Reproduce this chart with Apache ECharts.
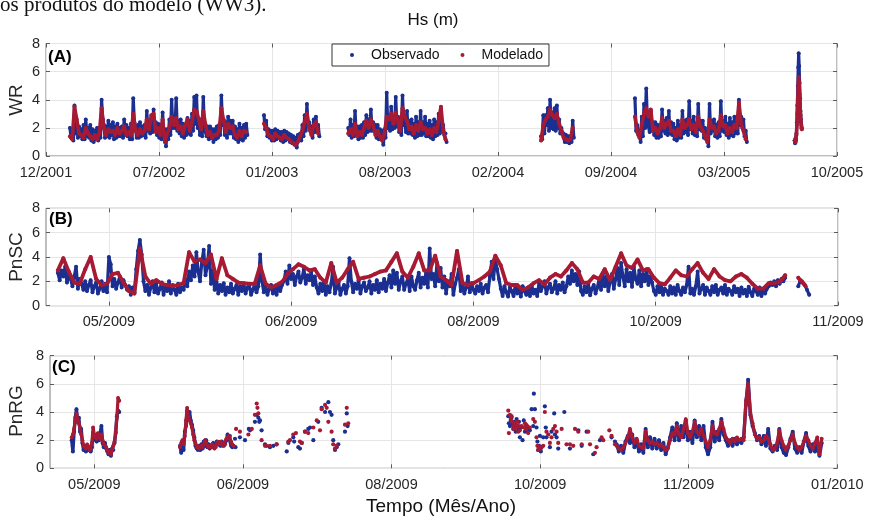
<!DOCTYPE html>
<html><head><meta charset="utf-8">
<script src="https://cdn.jsdelivr.net/npm/echarts@6/dist/echarts.min.js"></script>
<style>html,body{margin:0;padding:0;background:#fff}#c{width:869px;height:518px}</style>
</head><body><div id="c"></div>
<script>
// ---------- tick labels ----------
const A_ticks = ['12/2001','07/2002','01/2003','08/2003','02/2004','09/2004','03/2005','10/2005'];
const B_tickValues = [0,1,2,3,4];
const B_ticks = ['05/2009','06/2009','08/2009','10/2009','11/2009'];
const C_tickValues = [0,1,2,3,4,5];
const C_ticks = ['05/2009','06/2009','08/2009','10/2009','11/2009','01/2010'];

// ---------- Panel A (WR): segment start (time, in tick units) and sampling steps ----------
const A_segStart = [0.212, 1.929, 2.675, 4.381, 5.212, 6.625];
const A_obsStep  = [0.01, 0.01, 0.01, 0.01, 0.01, 0.004];
const A_modStep  = [0.02, 0.02, 0.02, 0.02, 0.02, 0.004];
const A_obs1 = [2.0,1.3,1.8,1.1,3.6,1.6,2.4,1.3,2.1,1.4,1.9,1.2,2.2,1.2,2.6,1.4,2.0,1.3,2.2,1.1,1.9,1.0,1.8,1.2,2.0,1.1,2.0,1.3,4.0,2.6,2.2,1.3,2.1,1.4,2.5,1.3,2.2,1.5,2.4,1.2,2.1,1.3,2.3,1.4,2.0,1.4,2.1,1.3,2.6,1.5,2.2,1.4,2.0,1.2,2.3,1.2,4.1,2.4,2.0,1.3,2.2,1.3,2.4,1.4,2.1,1.5,2.2,1.3,3.2,1.8,2.4,1.6,2.6,1.7,3.3,1.9,2.4,1.5,2.3,1.3,2.2,1.2,3.1,1.4,1.9,0.7,1.9,1.2,2.6,1.5,4.0,2.0,2.8,2.0,4.1,1.8,2.5,1.6,2.6,1.4,2.3,1.3,2.2,1.5,2.7,1.6,2.5,1.5,3.0,1.8,4.2,2.3,4.3,2.0,2.4,1.5,2.6,1.4,4.2,1.9,2.0,1.4,2.1,1.2,2.1,1.3,1.9,1.0,1.9,1.2,2.1,1.3,2.2,1.5,4.3,2.2,2.6,1.5,2.4,1.3,2.8,1.6,2.5,1.6,2.5,1.3,2.1,1.2,1.9,1.0,2.3,1.2,2.0,1.1,2.2,1.3,2.3,1.5];
const A_mod1 = [1.4,1.2,3.5,2.6,1.6,1.5,1.3,2.0,1.6,1.4,1.2,1.5,1.2,1.6,3.4,2.0,1.5,1.9,1.7,1.8,1.5,2.0,1.6,1.8,2.1,1.5,1.7,1.5,3.0,1.8,1.5,1.9,1.6,1.8,2.6,1.9,2.9,3.0,1.7,2.0,1.5,2.6,1.0,1.6,2.0,2.8,2.2,2.7,1.9,2.1,1.6,2.2,2.6,1.8,2.4,3.3,3.2,2.6,1.9,3.2,2.2,1.5,1.7,1.3,1.5,1.5,1.8,3.4,2.5,1.7,2.3,2.0,2.1,1.5,1.3,1.8,1.4,1.8,1.7];
const A_obs2 = [2.9,1.9,2.5,1.4,1.9,1.3,1.8,1.1,1.8,1.1,1.9,1.2,1.8,1.3,1.7,1.1,1.7,1.0,1.8,1.1,1.7,1.2,1.6,1.0,1.5,0.9,1.4,0.8,1.3,0.6,1.5,1.2,1.6,1.1,2.2,1.4,2.9,1.8,3.7,2.2,2.4,1.8,2.1,1.3,2.6,1.7,2.8,1.8,2.2,1.4];
const A_mod2 = [2.3,2.0,1.5,1.4,1.2,1.6,1.4,1.3,1.2,1.5,1.3,1.2,1.0,0.9,0.8,1.0,1.4,1.8,2.4,3.0,2.0,1.5,2.2,2.4,1.6];
const A_obs3 = [2.0,1.5,2.6,1.3,2.2,1.4,3.2,1.5,2.1,1.2,2.1,1.3,2.2,1.3,2.4,1.5,2.9,1.7,2.6,1.8,3.3,1.8,2.4,2.0,2.2,1.3,2.2,1.2,1.9,1.2,1.8,0.8,1.9,1.3,4.5,2.0,2.4,1.8,3.5,1.9,2.8,2.0,4.2,2.1,2.8,1.7,2.6,1.5,4.3,2.2,2.5,1.7,3.2,1.6,2.5,1.6,2.6,1.5,2.3,1.3,2.8,1.4,2.4,1.5,3.2,1.5,2.4,1.6,2.8,1.4,2.3,1.4,2.5,1.3,2.2,1.2,2.6,1.4,2.4,1.5,3.0,1.6,3.3,1.8,2.2,1.5,1.6,1.0];
const A_mod3 = [1.6,1.9,1.5,2.3,1.4,1.7,1.5,2.0,2.5,2.0,2.6,2.2,1.5,1.8,1.4,1.1,1.6,2.8,2.6,3.0,2.3,3.1,2.4,1.8,3.4,2.8,2.5,1.9,2.1,1.6,2.2,1.8,2.4,1.9,2.0,1.6,1.9,1.5,2.0,1.7,2.5,3.5,1.8,1.2];
const A_obs4 = [1.4,1.2,2.9,1.6,2.9,2.2,3.4,1.8,4.0,2.0,3.1,1.9,3.4,1.8,3.6,2.0,2.6,1.6,2.0,1.6,1.6,1.0,1.5,1.0,1.4,0.9,1.4,1.0,2.5,1.3];
const A_mod4 = [1.1,2.2,2.6,2.8,3.3,2.9,2.7,3.0,2.3,1.8,1.3,1.2,1.1,1.2,2.0];
const A_obs5 = [4.1,1.8,2.2,1.5,1.8,1.0,2.8,1.4,3.7,2.0,4.8,2.4,2.5,1.7,3.2,1.8,2.4,1.5,2.4,1.3,2.2,1.3,2.2,1.4,3.3,1.8,2.5,1.6,2.7,1.5,3.2,1.6,2.4,1.5,2.3,1.2,2.0,1.1,2.5,1.3,2.2,1.3,3.2,1.6,2.5,1.7,2.6,1.5,3.9,1.9,2.5,1.6,2.8,1.5,2.3,1.4,3.7,1.9,2.5,1.8,2.5,1.3,2.0,1.2,1.7,0.7,3.7,1.6,2.5,1.8,2.6,1.4,2.2,1.3,2.4,1.4,3.9,1.8,2.5,1.7,2.8,1.5,2.3,1.3,2.7,1.5,2.4,1.4,2.8,1.6,2.5,1.6,4.0,2.2,2.8,2.0,2.6,1.4,1.8,1.0];
const A_mod5 = [2.8,1.7,1.3,2.2,3.0,3.4,2.8,3.3,1.8,2.0,1.6,1.9,2.7,2.0,2.3,2.5,1.8,1.8,1.4,1.9,1.5,2.6,2.0,2.2,2.6,1.9,2.2,1.7,2.8,2.1,1.8,1.4,1.0,2.6,2.0,2.1,1.6,1.8,2.9,2.1,2.2,1.6,2.0,1.7,2.2,2.0,3.8,2.3,1.8,1.2];
const A_obs6 = [1.1,0.9,1.0,1.2,1.6,2.4,3.6,5.0,6.3,7.3,6.4,5.2,4.1,3.2,2.6,2.2,2.0];
const A_mod6 = [1.1,1.0,1.0,1.1,1.5,2.2,3.0,4.0,5.0,5.6,5.2,4.4,3.6,2.9,2.4,2.0,1.9];

// ---------- Panel B (PnSC) ----------
const B_obsStart = -0.28, B_obsStep = 0.01;
const B_obs = [
2.7,2.1,2.9,2.4,3.2,1.9,2.6,2.2,1.6,2.4, 3.2,1.4,2.2,1.8,1.3,2.0,1.2,1.7,2.1,1.1,
1.6,1.9,1.0,1.4,2.0,1.2,1.8,1.1,4.0,3.4, 1.6,2.2,1.4,1.9,2.4,1.5,2.1,1.7,1.3,1.6,
0.9,1.5,1.1,3.0,4.5,5.4,4.2,2.0,1.2,1.7, 0.9,1.5,2.0,1.1,1.8,1.0,1.4,1.9,0.9,1.6,
1.2,2.0,1.0,1.7,1.3,0.9,1.8,1.1,1.5,1.3, 2.2,1.6,2.8,2.1,3.3,2.4,4.4,2.8,2.0,3.6,
4.6,2.5,3.2,4.9,1.8,2.9,1.3,2.2,1.0,1.7, 1.2,1.85,0.9,1.5,1.1,1.8,1.0,1.4,1.7,0.9,
1.6,1.2,1.8,1.0,1.5,1.7,0.9,1.3,1.8,1.1, 1.6,4.2,2.0,1.1,1.6,0.9,1.4,1.7,1.0,1.5,
0.9,1.6,1.2,1.7,2.0,2.8,1.8,3.3,2.2,2.6, 1.7,2.4,2.8,1.9,2.3,3.0,1.8,2.5,2.1,2.8,
1.7,2.4,1.5,1.0,1.8,1.2,2.0,0.9,1.6,1.1, 1.8,3.2,1.0,1.5,1.9,0.9,1.4,1.7,1.0,1.6,
3.9,2.0,1.1,1.8,1.4,2.1,1.0,1.6,1.9,1.2, 1.5,2.0,1.0,1.7,1.3,2.1,1.1,1.8,1.4,2.2,
1.2,1.9,2.5,1.5,2.9,1.8,2.7,1.3,2.0,2.4, 1.3,1.8,2.2,1.2,2.4,1.6,1.3,2.1,2.7,1.5,
2.3,1.8,2.8,1.5,4.7,2.2,2.6,1.6,3.5,2.0, 3.1,1.5,2.4,1.0,2.0,1.6,2.6,0.9,1.8,2.3,
3.0,1.2,1.7,1.0,1.5,2.4,1.1,1.85,1.3,1.0, 1.6,1.2,1.8,1.0,1.5,1.7,1.1,2.4,3.6,2.2,
3.8,3.0,2.2,1.4,0.8,1.6,1.1,0.75,1.5,1.2, 0.8,1.7,1.0,1.4,0.75,1.6,1.2,0.9,1.5,0.8,
1.7,1.0,1.3,0.8,1.9,1.2,1.6,2.0,1.0,1.5, 1.8,1.1,1.4,2.0,1.0,1.7,1.3,1.9,1.1,1.6,
2.4,1.8,2.9,2.0,2.6,1.7,2.8,1.2,0.9,1.6, 1.1,1.85,0.85,1.4,1.7,1.0,1.5,2.2,1.3,2.65,
1.6,2.4,1.2,2.0,2.6,1.4,2.2,3.1,1.7,3.5, 2.4,1.6,3.0,2.0,2.7,1.55,3.2,2.2,1.8,2.9,
1.6,2.6,2.0,3.0,1.7,2.4,1.9,1.2,0.9,1.6, 1.1,1.7,0.9,1.4,1.2,0.9,1.6,1.0,1.5,0.9,
1.7,1.2,0.9,1.5,1.1,1.7,3.2,1.0,1.4,0.9, 1.6,2.8,1.0,1.4,1.7,0.9,1.5,1.2,0.9,1.6,
1.1,1.7,0.9,1.3,1.5,1.0,1.7,0.9,1.4,1.2, 0.9,1.6,1.1,1.4,0.8,1.5,1.0,1.3,0.8,1.56,
1.1,0.8,1.4,1.2,0.9,1.5,0.8,1.3,1.0,1.4, 1.6,1.9,1.7,2.0,1.6,2.1,1.8,2.2,2.0,2.3];
const B_modStart = -0.28, B_modStep = 0.03;
const B_mod = [2.9,3.9,2.8,1.9,1.8,3.0,4.0,2.2,1.7,1.8,2.6,2.7,1.9,1.2,1.0,4.7,2.4,1.8,2.1,1.8,1.7,1.6,1.7,1.85,4.4,3.6,3.8,3.5,4.2,2.2,3.9,2.5,2.2,1.9,1.85,1.8,1.8,3.3,1.8,1.5,1.7,1.95,2.6,3.0,3.4,3.2,2.9,3.0,2.3,1.9,3.5,1.9,2.3,3.0,3.6,2.2,2.3,2.4,2.6,2.8,2.9,3.6,4.3,2.8,2.3,3.2,4.3,2.9,2.9,4.1,2.4,2.1,1.7,4.5,1.85,1.7,1.85,2.1,2.4,2.8,4.1,3.3,1.85,1.7,1.7,1.3,1.5,1.85,2.1,1.75,2.3,2.6,2.4,2.9,3.5,3.0,1.9,1.9,2.4,2.2,3.0,2.1,3.2,4.3,3.3,3.1,3.8,2.9,3.0,2.3,1.85,1.75,2.3,2.9,2.5,2.4,3.0,3.5,2.7,2.2,3.0,2.4,2.1,2.0,2.4,2.6,2.3,1.8,1.4,1.4,1.85,1.85,1.95,2.5];
const B_tailStart = 3.782;
const B_obsTail = [1.6,2.1,1.9,1.7,1.3,0.9];
const B_modTail = [2.3,2.1,2.0,1.8,1.6];

// ---------- Panel C (PnRG) ----------
const C_segStart = [-0.152, 0.577, 3.515];
const C_segStep  = [0.008, 0.008, 0.015];
const C_obs1 = [2.0,1.2,2.6,3.6,4.2,3.3,3.6,2.6,2.8,1.8,1.3,1.6,1.2,1.6,1.3,1.4,1.2,1.5,2.5,2.1,2.2,1.9,2.3,2.0,2.5,3.0,1.8,1.5,1.8,1.4,1.2,1.0,1.3,0.9,1.4,1.3,1.8,2.5,3.7,4.1,4.0];
const C_mod1 = [2.2,2.4,2.8,3.4,3.9,3.5,3.2,2.9,2.4,2.0,1.6,1.5,1.4,1.7,1.5,1.3,1.4,1.8,2.9,2.4,2.2,2.1,2.5,2.2,2.1,2.4,2.0,1.7,1.6,1.5,1.3,1.1,1.2,1.0,1.3,1.6,1.9,2.6,3.6,5.0,4.8];
const C_obs2 = [1.6,1.1,1.9,1.3,2.6,3.0,4.1,3.8,4.0,3.4,3.1,2.7,2.2,1.6,1.4,1.3,1.6,1.3,1.7,1.4,1.9,1.6,2.0,1.5,1.7,1.4,1.6,1.5,1.8,1.5,1.6,1.9,1.7,1.8,1.6,1.9,1.7,1.6,1.8,2.0,2.4,2.2,2.3,1.6,1.5,1.6];
const C_mod2 = [1.5,1.8,2.0,1.7,2.3,3.4,4.3,3.7,3.4,3.2,2.9,2.4,2.0,1.8,1.5,1.6,1.4,1.5,1.6,1.5,1.7,2.0,1.8,1.6,1.5,1.6,1.5,1.7,1.6,1.4,1.5,1.8,1.9,1.7,1.9,1.8,1.6,1.8,1.7,2.1,2.2,2.3,2.1,1.9,1.7,1.6];
const C_obs3 = [1.7,1.2,1.6,1.1,1.9,2.3,1.8,2.4,1.5,2.0,1.2,1.7,1.1,2.8,1.5,2.2,1.4,2.1,1.4,2.0,1.3,1.8,1.0,1.5,2.2,2.9,2.0,3.2,2.0,3.0,2.2,3.4,2.0,2.6,1.8,3.4,2.2,3.0,2.0,3.0,1.5,1.0,1.5,3.3,1.9,2.6,2.0,3.5,2.4,2.0,1.6,2.0,1.6,2.1,1.7,2.0,1.8,2.2,4.5,6.3,3.8,3.0,2.5,2.0,2.3,1.7,2.3,1.6,2.8,1.4,1.2,1.6,1.3,2.8,1.5,1.1,0.95,1.5,2.1,2.6,1.4,1.1,1.5,1.1,1.9,2.5,1.6,1.2,1.7,1.2,1.7,0.9,1.8];
const C_mod3 = [1.6,1.4,1.3,1.5,1.8,2.2,2.8,2.2,1.8,2.1,1.6,1.5,1.4,2.6,2.0,1.8,1.9,1.7,1.8,1.6,1.7,1.5,1.3,1.4,2.0,2.5,2.4,3.0,2.4,2.2,2.8,3.5,2.5,2.2,2.6,3.3,2.6,2.4,2.8,2.3,1.9,1.5,2.0,3.0,2.5,2.4,2.8,3.3,2.8,2.2,2.0,1.8,2.1,1.9,2.2,2.0,2.1,2.0,4.8,6.0,4.0,3.2,2.4,2.1,2.2,1.9,2.0,2.3,2.1,1.7,1.3,1.4,1.8,2.7,2.0,1.6,1.3,1.6,2.0,2.4,1.8,1.5,1.3,1.5,1.9,2.3,2.0,1.6,1.4,1.8,2.2,1.0,2.1];
// sparse observations: [time, value]
const C_obsSparse1 = [[0.947,2.1],[0.950,1.5],[0.98,2.2],[1.014,2.0],[1.040,2.8],[1.048,2.7],[1.081,3.3],[1.093,3.8],[1.104,3.6],[1.110,3.3],[1.115,3.4],[1.126,2.7],[1.149,1.7],[1.182,1.5],[1.205,1.6],[1.227,1.7],[1.295,1.2],[1.306,1.8],[1.339,2.2],[1.345,1.9],[1.373,1.5],[1.384,1.4],[1.396,1.8],[1.418,2.6],[1.440,2.8],[1.452,2.9],[1.474,2.0],[1.507,3.3],[1.530,4.3],[1.553,4.0],[1.575,4.7],[1.586,4.0],[1.597,3.8],[1.608,2.0],[1.620,1.3],[1.631,1.5],[1.642,1.7],[1.687,2.6],[1.699,3.9],[1.705,3.0]];
const C_modSparse1 = [[0.954,2.8],[0.98,2.6],[1.037,2.4],[1.060,2.8],[1.081,3.8],[1.093,4.6],[1.098,4.3],[1.104,3.9],[1.126,2.0],[1.149,1.6],[1.160,1.6],[1.182,1.6],[1.227,1.7],[1.306,1.9],[1.317,2.0],[1.339,2.4],[1.357,2.5],[1.384,1.9],[1.396,1.8],[1.418,2.6],[1.440,2.5],[1.474,2.9],[1.497,3.4],[1.519,2.7],[1.530,4.2],[1.553,4.5],[1.564,4.3],[1.575,3.3],[1.597,2.6],[1.608,1.7],[1.620,1.4],[1.631,1.6],[1.687,3.1],[1.699,4.3],[1.709,3.2]];
const C_obsSparse2 = [[2.786,3.7],[2.790,3.2],[2.797,3.0],[2.803,3.4],[2.808,3.6],[2.814,3.1],[2.819,2.8],[2.825,3.3],[2.831,3.0],[2.836,2.6],[2.842,3.5],[2.847,3.0],[2.853,2.8],[2.858,3.3],[2.864,2.2],[2.870,2.9],[2.882,2.0],[2.890,3.4],[2.898,2.6],[2.905,3.1],[2.914,2.6],[2.920,2.9],[2.931,2.7],[2.943,4.2],[2.954,3.0],[2.958,5.3],[2.965,4.2],[2.976,2.9],[2.982,1.9],[2.987,1.3],[2.993,1.6],[2.999,2.3],[3.005,1.2],[3.010,1.5],[3.021,2.2],[3.032,4.4],[3.038,2.9],[3.043,2.2],[3.066,1.5],[3.077,2.6],[3.095,3.9],[3.100,2.4],[3.111,2.2],[3.122,1.4],[3.163,4.0],[3.201,1.4],[3.257,2.7],[3.280,1.6],[3.313,2.6],[3.358,1.0],[3.403,2.0],[3.481,2.2],[3.504,1.9]];
const C_modSparse2 = [[2.786,4.1],[2.790,2.5],[2.797,3.8],[2.803,3.5],[2.808,3.7],[2.814,3.3],[2.819,3.0],[2.825,2.8],[2.831,3.2],[2.836,3.0],[2.842,2.9],[2.847,3.3],[2.853,2.6],[2.858,3.0],[2.864,2.7],[2.876,3.0],[2.890,2.9],[2.898,3.2],[2.905,2.8],[2.914,3.0],[2.920,2.5],[2.931,2.9],[2.954,3.5],[2.965,3.3],[2.976,2.2],[2.982,1.6],[2.987,1.3],[2.993,1.5],[3.005,1.4],[3.021,1.6],[3.032,4.0],[3.043,2.6],[3.055,2.4],[3.066,1.8],[3.077,2.2],[3.089,2.8],[3.100,3.0],[3.111,2.6],[3.122,1.8],[3.145,2.8],[3.178,1.7],[3.201,1.7],[3.223,1.6],[3.235,2.8],[3.257,2.6],[3.280,1.7],[3.324,2.6],[3.336,1.7],[3.369,1.1],[3.380,1.5],[3.414,2.2],[3.425,2.0],[3.466,2.7],[3.481,2.3],[3.504,1.7]];

// ---------- helpers ----------
const OBS = '#1b2f91', MOD = '#a61a34';
const FONT = "'Liberation Sans', Arial, sans-serif";
function seg(start, step, vals) { return vals.map((v, i) => [+(start + i * step).toFixed(5), v]); }
function join(list) {
  const out = [];
  list.forEach((s, k) => { if (k) out.push([s[0][0] - 0.0005, '-']); out.push(...s); });
  return out;
}
const A_obs = join([A_obs1, A_obs2, A_obs3, A_obs4, A_obs5, A_obs6].map((v, k) => seg(A_segStart[k], A_obsStep[k], v)));
const A_mod = join([A_mod1, A_mod2, A_mod3, A_mod4, A_mod5, A_mod6].map((v, k) => seg(A_segStart[k], A_modStep[k], v)));
const B_obsData = join([seg(B_obsStart, B_obsStep, B_obs), seg(B_tailStart, 0.012, B_obsTail)]);
const B_modData = join([seg(B_modStart, B_modStep, B_mod), seg(B_tailStart, 0.01, B_modTail)]);
const C_obsLine = join([C_obs1, C_obs2, C_obs3].map((v, k) => seg(C_segStart[k], C_segStep[k], v)));
const C_modLine = join([C_mod1, C_mod2, C_mod3].map((v, k) => seg(C_segStart[k], C_segStep[k], v)));
const C_obsScatter = C_obsSparse1.concat(C_obsSparse2);
const C_modScatter = C_modSparse1.concat(C_modSparse2);

const grids = [
  { left: 46, right: 32, top: 43.5, height: 112.5 },
  { left: 46, right: 31, top: 208.3, height: 97.4 },
  { left: 50, right: 31.7, top: 355.7, height: 112.6 }
].map(g => Object.assign(g, { show: true, borderColor: '#7d7d7d', borderWidth: 1, backgroundColor: '#fff', containLabel: false, outerBoundsMode: 'none' }));

const tickStyle = { show: true, inside: true, length: 4, lineStyle: { color: '#5c5c5c', width: 1 } };
const splitStyle = { show: true, lineStyle: { color: '#e6e6e6', width: 1 } };
const labelStyle = { color: '#262626', fontSize: 14.5, fontFamily: FONT };
const noLine = { show: false, onZero: false };

function xPair(gi, min, max, custom, labels) {
  const base = { type: 'value', gridIndex: gi, min, max, axisLine: noLine };
  if (custom) { base.axisTick = Object.assign({ customValues: custom }, tickStyle); }
  else { base.interval = 1; base.axisTick = tickStyle; }
  const bottom = Object.assign({}, base, {
    position: 'bottom',
    splitLine: splitStyle,
    axisLabel: Object.assign({ margin: 9, showMinLabel: true, showMaxLabel: true,
      formatter: v => labels[Math.round(v)] }, labelStyle, custom ? { customValues: custom } : {})
  });
  const top = Object.assign({}, base, { position: 'top', splitLine: { show: false }, axisLabel: { show: false } });
  return [bottom, top];
}
function yPair(gi) {
  const base = { type: 'value', gridIndex: gi, min: 0, max: 8, interval: 2, axisLine: noLine, axisTick: tickStyle };
  return [
    Object.assign({}, base, { position: 'left', splitLine: splitStyle, axisLabel: Object.assign({ margin: 6 }, labelStyle) }),
    Object.assign({}, base, { position: 'right', splitLine: { show: false }, axisLabel: { show: false } })
  ];
}
const xAxes = [].concat(
  xPair(0, 0, 7, null, A_ticks),
  xPair(1, -0.345, 4, B_tickValues, B_ticks),
  xPair(2, -0.298, 5, C_tickValues, C_ticks)
);
const yAxes = [].concat(yPair(0), yPair(1), yPair(2));

function lineS(name, color, xi, yi, data, w, s) {
  return { name, type: 'line', xAxisIndex: xi, yAxisIndex: yi, data, connectNulls: false,
    symbol: 'circle', symbolSize: s, showSymbol: true, showAllSymbol: true,
    itemStyle: { color }, lineStyle: { color, width: w, join: 'round', cap: 'round' },
    emphasis: { disabled: true }, silent: true, z: name === 'Modelado' ? 4 : 3 };
}
function scatS(name, color, xi, yi, data) {
  return { name, type: 'scatter', xAxisIndex: xi, yAxisIndex: yi, data, symbol: 'circle', symbolSize: 4.2,
    itemStyle: { color, opacity: 1 }, emphasis: { disabled: true }, silent: true, z: name === 'Modelado' ? 4 : 3 };
}

const series = [
  lineS('Observado', OBS, 0, 0, A_obs, 3.2, 4),
  lineS('Modelado', MOD, 0, 0, A_mod, 3.6, 4),
  lineS('Observado', OBS, 2, 2, B_obsData, 3.2, 4),
  lineS('Modelado', MOD, 2, 2, B_modData, 3.8, 4),
  lineS('Observado', OBS, 4, 4, C_obsLine, 3.4, 4),
  scatS('Observado', OBS, 4, 4, C_obsScatter),
  lineS('Modelado', MOD, 4, 4, C_modLine, 3.2, 3.8),
  scatS('Modelado', MOD, 4, 4, C_modScatter)
];

function txt(text, x, y, opt) {
  return { type: 'text', x, y, silent: true, z: 100,
    style: Object.assign({ text, fill: '#262626', fontFamily: FONT, fontSize: 19, align: 'center', verticalAlign: 'middle' }, opt || {}) };
}
const graphic = [
  txt('os produtos do modelo (WW3).', 0, 5, { fontFamily: "'Liberation Serif', 'Times New Roman', serif", fontSize: 21, fill: '#111', align: 'left' }),
  txt('Hs (m)', 433, 20, { fontSize: 17, fill: '#111' }),
  txt('Tempo (Mês/Ano)', 441, 507, { fontSize: 19, fill: '#111' }),
  Object.assign(txt('WR', 17, 100), { rotation: Math.PI / 2 }),
  Object.assign(txt('PnSC', 17, 257), { rotation: Math.PI / 2 }),
  Object.assign(txt('PnRG', 17, 411), { rotation: Math.PI / 2 }),
  txt('(A)', 48, 49, { fontSize: 17, fontWeight: 'bold', fill: '#000', align: 'left', verticalAlign: 'top' }),
  txt('(B)', 49, 211, { fontSize: 17, fontWeight: 'bold', fill: '#000', align: 'left', verticalAlign: 'top' }),
  txt('(C)', 52, 359, { fontSize: 17, fontWeight: 'bold', fill: '#000', align: 'left', verticalAlign: 'top' })
];

const chart = echarts.init(document.getElementById('c'), null, { renderer: 'canvas' });
chart.setOption({
  animation: false,
  backgroundColor: '#fff',
  grid: grids,
  xAxis: xAxes,
  yAxis: yAxes,
  legend: {
    data: ['Observado', 'Modelado'], left: 332, top: 44, orient: 'horizontal',
    icon: 'circle', itemWidth: 28, itemHeight: 4, itemGap: 21,
    padding: [4, 6, 4, 18], borderColor: '#333', borderWidth: 1, backgroundColor: '#fff',
    textStyle: { color: '#111', fontSize: 14, fontFamily: FONT }, selectedMode: false, z: 50
  },
  graphic,
  series
});
</script>
</body></html>
